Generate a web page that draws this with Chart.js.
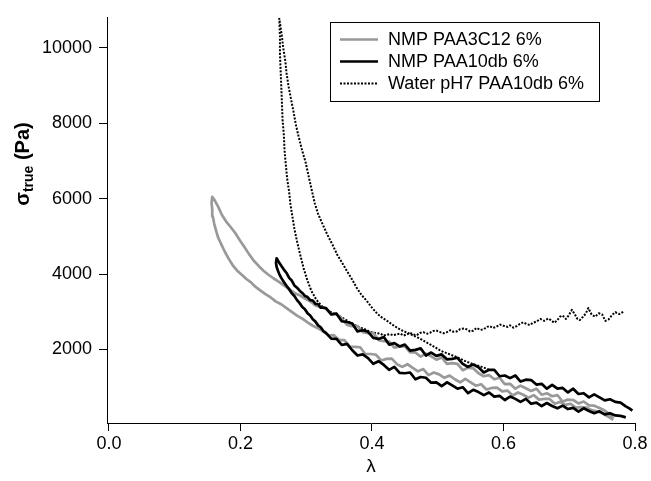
<!DOCTYPE html>
<html>
<head>
<meta charset="utf-8">
<script src="https://cdn.jsdelivr.net/npm/chart.js@4.4.1/dist/chart.umd.min.js"></script>
<style>
  html, body { margin: 0; padding: 0; background: #fff; }
  #wrap { width: 651px; height: 481px; }
</style>
</head>
<body>
<div id="wrap"><canvas id="chart" width="651" height="481"></canvas></div>
<script>
const FONT = "'Liberation Sans', Arial, sans-serif";

const xTicks = [0.0, 0.2, 0.4, 0.6, 0.8];
const yTicks = [2000, 4000, 6000, 8000, 10000];
const seriesNames = ['NMP PAA3C12 6%', 'NMP PAA10db 6%', 'Water pH7 PAA10db 6%'];

// NMP PAA3C12 6% : upper branch, tip -> right end
const grayUpLam = [0.157, 0.161, 0.166, 0.172, 0.178, 0.185, 0.192, 0.199, 0.206, 0.213, 0.220, 0.228, 0.235, 0.242, 0.250, 0.258, 0.266, 0.274, 0.282, 0.290, 0.298, 0.306, 0.314, 0.322, 0.330, 0.338, 0.346, 0.354, 0.362, 0.370, 0.378, 0.386, 0.394, 0.402, 0.410, 0.418, 0.426, 0.434, 0.442, 0.450, 0.458, 0.466, 0.474, 0.482, 0.490, 0.498, 0.506, 0.514, 0.522, 0.530, 0.538, 0.546, 0.554, 0.562, 0.570, 0.578, 0.586, 0.594, 0.602, 0.610, 0.618, 0.626, 0.634, 0.642, 0.650, 0.658, 0.666, 0.674, 0.682, 0.690, 0.698, 0.706, 0.714, 0.722, 0.730, 0.738, 0.746, 0.754, 0.760, 0.767];
const grayUpSig = [6050, 5950, 5790, 5560, 5400, 5250, 5090, 4900, 4720, 4530, 4360, 4210, 4090, 3990, 3890, 3800, 3700, 3600, 3500, 3440, 3350, 3280, 3170, 3120, 3080, 2940, 2950, 2820, 2650, 2620, 2620, 2460, 2430, 2440, 2250, 2220, 2210, 2050, 2080, 2090, 1920, 1920, 1810, 1890, 1820, 1730, 1790, 1620, 1640, 1620, 1450, 1520, 1500, 1370, 1290, 1320, 1210, 1250, 1080, 1090, 960, 1040, 970, 900, 960, 800, 840, 760, 790, 620, 670, 660, 570, 620, 520, 510, 450, 380, 300, 170];

// NMP PAA3C12 6% : lower branch, tip -> right end
const grayLowLam = [0.157, 0.156, 0.157, 0.158, 0.160, 0.163, 0.166, 0.171, 0.176, 0.182, 0.188, 0.195, 0.202, 0.209, 0.216, 0.223, 0.230, 0.238, 0.246, 0.254, 0.262, 0.270, 0.278, 0.286, 0.294, 0.302, 0.310, 0.318, 0.326, 0.334, 0.342, 0.350, 0.358, 0.366, 0.374, 0.382, 0.390, 0.398, 0.406, 0.414, 0.422, 0.430, 0.438, 0.446, 0.454, 0.462, 0.470, 0.478, 0.486, 0.494, 0.502, 0.510, 0.518, 0.526, 0.534, 0.542, 0.550, 0.558, 0.566, 0.574, 0.582, 0.590, 0.598, 0.606, 0.614, 0.622, 0.630, 0.638, 0.646, 0.654, 0.662, 0.670, 0.678, 0.686, 0.694, 0.702, 0.710, 0.718, 0.726, 0.734, 0.742, 0.750, 0.758, 0.767];
const grayLowSig = [6050, 5880, 5730, 5530, 5340, 5150, 4970, 4780, 4600, 4410, 4240, 4090, 3980, 3870, 3780, 3660, 3570, 3470, 3380, 3270, 3200, 3100, 3000, 2900, 2820, 2720, 2630, 2560, 2480, 2370, 2380, 2250, 2250, 2080, 2070, 2060, 1880, 1880, 1860, 1710, 1750, 1760, 1610, 1540, 1610, 1510, 1420, 1480, 1320, 1390, 1340, 1250, 1310, 1210, 1130, 1220, 1130, 1040, 1080, 940, 980, 990, 890, 910, 780, 860, 800, 720, 790, 670, 690, 690, 560, 610, 530, 560, 460, 470, 460, 390, 360, 310, 230, 130];

// NMP PAA10db 6% : upper branch, tip -> right end
const blackUpLam = [0.255, 0.258, 0.262, 0.266, 0.270, 0.274, 0.278, 0.282, 0.286, 0.290, 0.294, 0.298, 0.302, 0.306, 0.310, 0.314, 0.318, 0.322, 0.326, 0.330, 0.338, 0.346, 0.354, 0.362, 0.370, 0.378, 0.386, 0.394, 0.402, 0.410, 0.418, 0.426, 0.434, 0.442, 0.450, 0.458, 0.466, 0.474, 0.482, 0.490, 0.498, 0.506, 0.514, 0.522, 0.530, 0.538, 0.546, 0.554, 0.562, 0.570, 0.578, 0.586, 0.594, 0.602, 0.610, 0.618, 0.626, 0.634, 0.642, 0.650, 0.658, 0.666, 0.674, 0.682, 0.690, 0.698, 0.706, 0.714, 0.722, 0.730, 0.738, 0.746, 0.754, 0.762, 0.770, 0.778, 0.786, 0.792, 0.796];
const blackUpSig = [4420, 4330, 4220, 4120, 4030, 3900, 3830, 3700, 3640, 3560, 3500, 3420, 3390, 3310, 3300, 3210, 3200, 3110, 3110, 3100, 2930, 2950, 2750, 2730, 2690, 2480, 2510, 2470, 2310, 2280, 2330, 2130, 2170, 2080, 2130, 1970, 1990, 2030, 1840, 1920, 1830, 1870, 1740, 1750, 1780, 1620, 1540, 1600, 1530, 1390, 1460, 1460, 1290, 1310, 1240, 1310, 1150, 1200, 1190, 1070, 1090, 960, 1060, 960, 980, 860, 960, 820, 840, 730, 810, 730, 650, 680, 610, 590, 490, 430, 380];

// NMP PAA10db 6% : lower branch, tip -> right end
const blackLowLam = [0.255, 0.254, 0.255, 0.257, 0.259, 0.262, 0.266, 0.270, 0.274, 0.278, 0.282, 0.286, 0.290, 0.294, 0.298, 0.302, 0.306, 0.310, 0.314, 0.318, 0.322, 0.326, 0.330, 0.338, 0.346, 0.354, 0.362, 0.370, 0.378, 0.386, 0.394, 0.402, 0.410, 0.418, 0.426, 0.434, 0.442, 0.450, 0.458, 0.466, 0.474, 0.482, 0.490, 0.498, 0.506, 0.514, 0.522, 0.530, 0.538, 0.546, 0.554, 0.562, 0.570, 0.578, 0.586, 0.594, 0.602, 0.610, 0.618, 0.626, 0.634, 0.642, 0.650, 0.658, 0.666, 0.674, 0.682, 0.690, 0.698, 0.706, 0.714, 0.722, 0.730, 0.738, 0.746, 0.754, 0.762, 0.770, 0.778, 0.786];
const blackLowSig = [4420, 4300, 4190, 4090, 4000, 3900, 3790, 3690, 3600, 3490, 3420, 3310, 3230, 3130, 3070, 2960, 2900, 2800, 2740, 2640, 2590, 2490, 2440, 2290, 2280, 2120, 2150, 1980, 1840, 1870, 1770, 1620, 1690, 1590, 1460, 1540, 1380, 1370, 1390, 1210, 1270, 1250, 1120, 1130, 1030, 1130, 1050, 960, 1000, 840, 930, 870, 790, 860, 750, 770, 660, 750, 690, 610, 690, 560, 590, 500, 580, 500, 440, 510, 420, 450, 350, 440, 370, 310, 360, 280, 310, 250, 240, 200];

// Water pH7 PAA10db 6% : tail (right -> left), inner branch up to the tip, outer branch down
const waterLam = [0.782, 0.776, 0.770, 0.765, 0.760, 0.755, 0.750, 0.745, 0.739, 0.734, 0.729, 0.725, 0.721, 0.716, 0.712, 0.708, 0.704, 0.699, 0.695, 0.690, 0.686, 0.681, 0.677, 0.672, 0.668, 0.662, 0.656, 0.650, 0.645, 0.640, 0.636, 0.630, 0.625, 0.620, 0.615, 0.610, 0.606, 0.600, 0.595, 0.589, 0.584, 0.579, 0.575, 0.570, 0.565, 0.559, 0.554, 0.549, 0.545, 0.540, 0.534, 0.529, 0.524, 0.519, 0.514, 0.509, 0.504, 0.498, 0.493, 0.488, 0.484, 0.478, 0.473, 0.468, 0.463, 0.458, 0.454, 0.448, 0.443, 0.437, 0.432, 0.427, 0.423, 0.418, 0.413,
  0.405, 0.397, 0.390, 0.382, 0.375, 0.367, 0.360, 0.352, 0.345, 0.337, 0.330, 0.323, 0.315, 0.308, 0.302, 0.296, 0.291, 0.286, 0.282, 0.279, 0.276, 0.274, 0.271, 0.269, 0.267, 0.266, 0.264, 0.263, 0.262, 0.261, 0.260, 0.260, 0.259,
  0.261, 0.263, 0.265, 0.268, 0.270, 0.273, 0.277, 0.281, 0.284, 0.288, 0.293, 0.299, 0.304, 0.309, 0.313, 0.318, 0.325, 0.332, 0.340, 0.347, 0.355, 0.362, 0.370, 0.377, 0.384, 0.392, 0.400, 0.408, 0.415, 0.423, 0.430, 0.438, 0.445, 0.453, 0.463, 0.473, 0.481, 0.489, 0.497, 0.504, 0.517, 0.530, 0.542, 0.554, 0.567, 0.580];
const waterSig = [3000, 2940, 2990, 2910, 2800, 2760, 2930, 2960, 2870, 2930, 3100, 2950, 2870, 2780, 2820, 2950, 3050, 2900, 2810, 2900, 2870, 2760, 2710, 2780, 2820, 2760, 2810, 2740, 2710, 2650, 2670, 2720, 2680, 2620, 2580, 2640, 2600, 2630, 2660, 2600, 2570, 2620, 2600, 2540, 2520, 2570, 2500, 2480, 2530, 2560, 2540, 2480, 2470, 2510, 2460, 2430, 2460, 2500, 2490, 2440, 2420, 2460, 2440, 2380, 2400, 2440, 2410, 2370, 2420, 2400, 2380, 2410, 2390, 2370, 2420,
  2440, 2470, 2530, 2580, 2640, 2710, 2790, 2870, 2930, 3000, 3080, 3160, 3330, 3550, 3820, 4160, 4500, 4870, 5200, 5520, 5850, 6180, 6530, 6890, 7280, 7680, 8100, 8550, 9000, 9420, 9870, 10310, 10780,
  10550, 10310, 10000, 9680, 9340, 8990, 8630, 8280, 7980, 7680, 7330, 6970, 6570, 6180, 5880, 5600, 5320, 5050, 4780, 4520, 4290, 4080, 3850, 3630, 3450, 3290, 3110, 2950, 2850, 2760, 2670, 2580, 2510, 2450, 2370, 2290, 2210, 2130, 2050, 1970, 1880, 1790, 1690, 1610, 1540, 1450];

// join two branches that share the tip into one path
function loopPoints(lamA, sigA, lamB, sigB) {
  const pts = [];
  for (let i = lamB.length - 1; i >= 0; i--) pts.push({ x: lamB[i], y: sigB[i] });
  for (let i = 1; i < lamA.length; i++) pts.push({ x: lamA[i], y: sigA[i] });
  return pts;
}

const yTitlePlugin = {
  id: 'yTitle',
  afterDraw(chart) {
    const ctx = chart.ctx;
    ctx.save();
    ctx.translate(22, 164);
    ctx.rotate(-Math.PI / 2);
    ctx.fillStyle = '#000';
    ctx.textBaseline = 'alphabetic';
    ctx.font = `bold 20px ${FONT}`;
    const w1 = ctx.measureText('σ').width;
    const w3 = ctx.measureText(' (Pa)').width;
    ctx.font = `bold 14px ${FONT}`;
    const w2 = ctx.measureText('true').width;
    let x = -(w1 + w2 + w3) / 2;
    ctx.font = `bold 20px ${FONT}`;
    ctx.fillText('σ', x, 7);
    x += w1;
    ctx.font = `bold 14px ${FONT}`;
    ctx.fillText('true', x, 11);
    x += w2;
    ctx.font = `bold 20px ${FONT}`;
    ctx.fillText(' (Pa)', x, 7);
    ctx.restore();
  }
};

const boxLegendPlugin = {
  id: 'boxLegend',
  afterDraw(chart) {
    const ctx = chart.ctx;
    ctx.save();
    ctx.fillStyle = '#fff';
    ctx.fillRect(330, 22, 270, 80);
    ctx.strokeStyle = '#000';
    ctx.lineWidth = 1;
    ctx.strokeRect(330.5, 22.5, 269, 79);
    chart.data.datasets.forEach((ds, i) => {
      const y = 39.5 + i * 22;
      ctx.strokeStyle = ds.borderColor;
      ctx.lineWidth = ds.borderWidth;
      ctx.setLineDash(ds.borderDash || []);
      ctx.beginPath();
      ctx.moveTo(340, y);
      ctx.lineTo(378, y);
      ctx.stroke();
      ctx.setLineDash([]);
      ctx.fillStyle = '#000';
      ctx.font = `18px ${FONT}`;
      ctx.textBaseline = 'middle';
      ctx.fillText(ds.label, 388, y + 1);
    });
    ctx.restore();
  }
};

const axisGrid = { drawOnChartArea: false, drawTicks: true, tickLength: 8, color: '#000', lineWidth: 1 };

new Chart(document.getElementById('chart'), {
  type: 'scatter',
  data: {
    datasets: [
      {
        label: seriesNames[0],
        data: loopPoints(grayUpLam, grayUpSig, grayLowLam, grayLowSig),
        borderColor: '#999999',
        borderWidth: 2.7,
        order: 1
      },
      {
        label: seriesNames[1],
        data: loopPoints(blackUpLam, blackUpSig, blackLowLam, blackLowSig),
        borderColor: '#000000',
        borderWidth: 2.7,
        order: 0
      },
      {
        label: seriesNames[2],
        data: waterLam.map((v, i) => ({ x: v, y: waterSig[i] })),
        borderColor: '#000000',
        borderWidth: 2,
        borderDash: [2, 1.5],
        order: 2
      }
    ].map(ds => Object.assign(ds, { showLine: true, pointRadius: 0, tension: 0, fill: false, borderJoinStyle: 'round' }))
  },
  options: {
    responsive: false,
    animation: false,
    layout: { padding: { top: 15, right: 16, left: 0, bottom: 0 } },
    plugins: {
      legend: { display: false },
      tooltip: { enabled: false }
    },
    scales: {
      x: {
        type: 'linear',
        min: -0.003,
        max: 0.8,
        afterBuildTicks: axis => { axis.ticks = xTicks.map(v => ({ value: v })); },
        afterFit: axis => { axis.height = 58; },
        border: { display: true, color: '#000', width: 1 },
        grid: axisGrid,
        ticks: {
          color: '#000',
          font: { family: FONT, size: 18 },
          padding: 2,
          maxRotation: 0,
          callback: v => v.toFixed(1)
        },
        title: {
          display: true,
          text: 'λ',
          color: '#000',
          font: { family: FONT, size: 19 },
          padding: { top: 0, bottom: 3 }
        }
      },
      y: {
        type: 'linear',
        min: 50,
        max: 10800,
        afterBuildTicks: axis => { axis.ticks = yTicks.map(v => ({ value: v })); },
        afterFit: axis => { axis.width = 107; },
        border: { display: true, color: '#000', width: 1 },
        grid: axisGrid,
        ticks: {
          color: '#000',
          font: { family: FONT, size: 18 },
          padding: 7,
          callback: v => String(v)
        }
      }
    }
  },
  plugins: [yTitlePlugin, boxLegendPlugin]
});
</script>
</body>
</html>
